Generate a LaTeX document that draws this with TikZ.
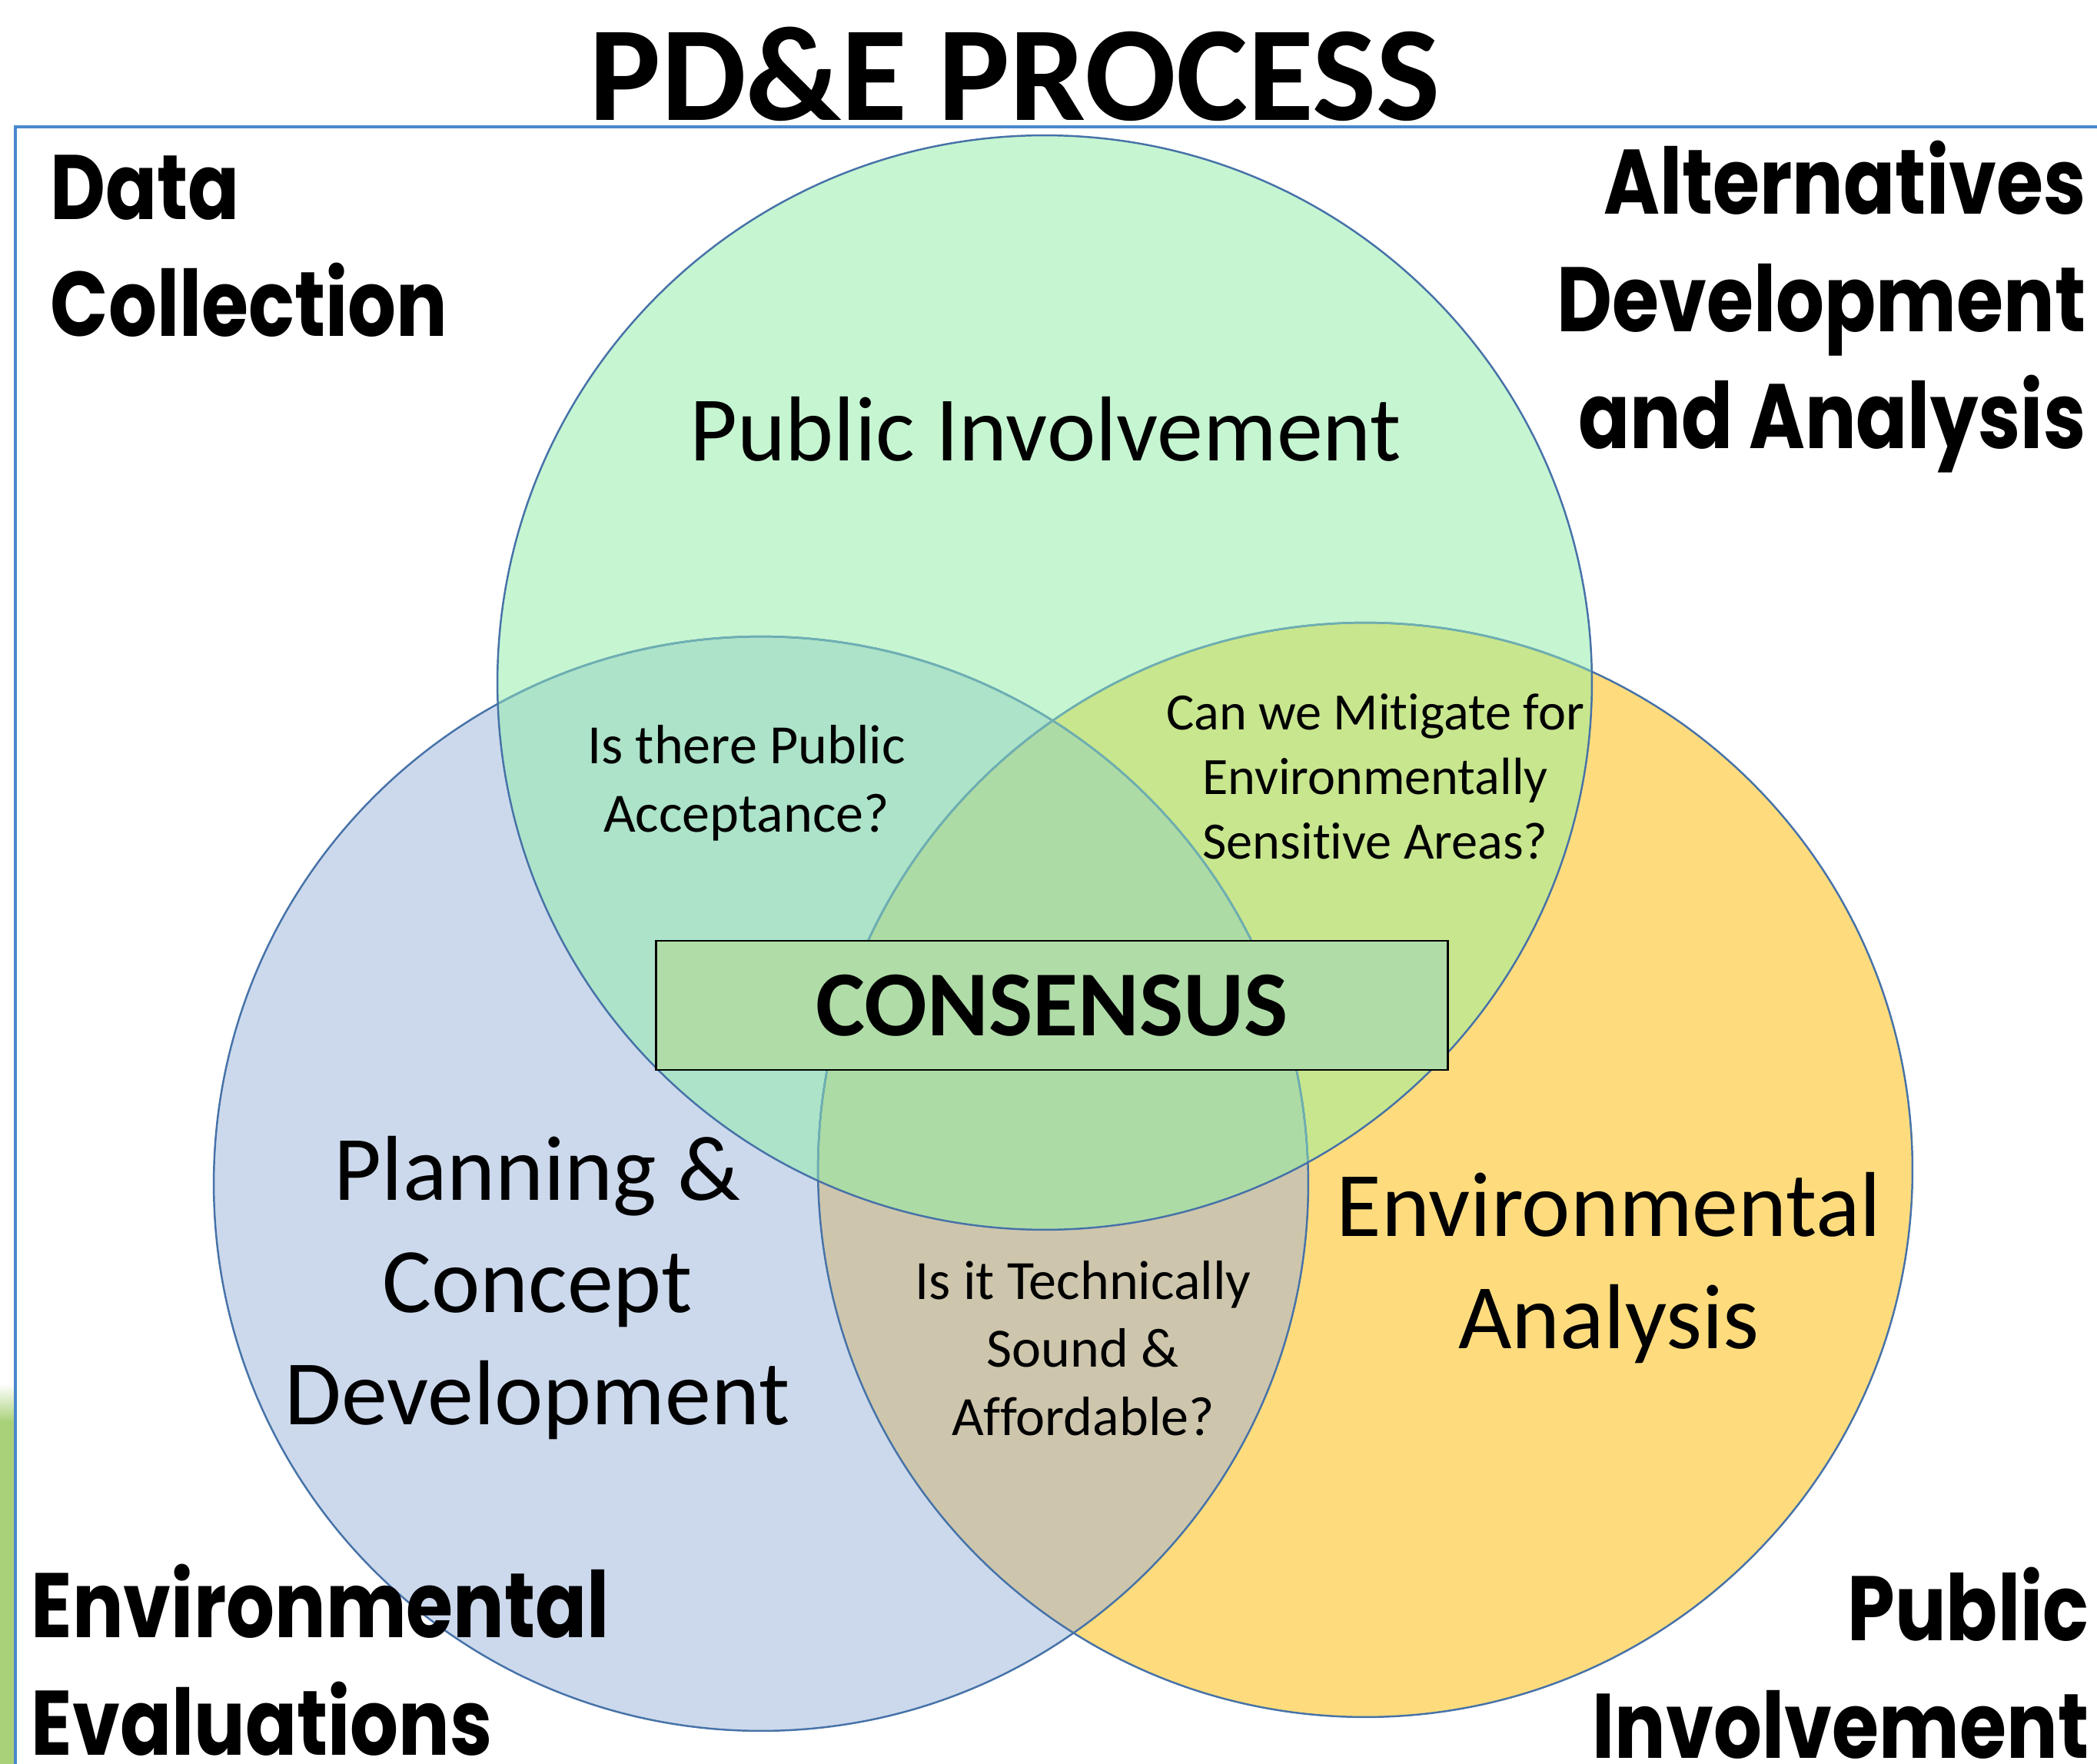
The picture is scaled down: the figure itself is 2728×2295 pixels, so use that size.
\documentclass[tikz,border=0pt]{standalone}
\usepackage{fontspec}
\setmainfont{Carlito}[Ligatures=NoCommon]
\newfontfamily\cornerfont{Poppins}[FakeStretch=0.83]
\definecolor{cG}{HTML}{C6F5D2}
\definecolor{cB}{HTML}{CCD9EC}
\definecolor{cY}{HTML}{FEDC7E}
\definecolor{cGB}{HTML}{ACE3C9}
\definecolor{cGY}{HTML}{C8E68E}
\definecolor{cBY}{HTML}{CDC6AD}
\definecolor{cGBY}{HTML}{ADDBA5}
\definecolor{cBox}{HTML}{B0DCA8}
\definecolor{edgeblue}{HTML}{4672A8}
\definecolor{edgelight}{HTML}{6DB0B2}
\definecolor{frameblue}{HTML}{4A88CC}
\definecolor{bargreen}{HTML}{A9D17A}
\tikzset{
  circline/.style={draw=edgeblue, line width=0.7pt},
  circlight/.style={draw=edgelight, line width=0.7pt},
  bigtext/.style={inner sep=0pt, anchor=base, align=center, font=\fontsize{34.1}{41.5}\selectfont},
  qtext/.style={inner sep=0pt, anchor=base, align=center, font=\fontsize{20.5}{25.1}\selectfont},
  cornerlbl/.style={inner sep=0pt, font=\fontsize{33.9}{43.5}\selectfont\cornerfont\bfseries},
}
\begin{document}
\begin{tikzpicture}[x=0.01cm, y=-0.01cm]
\useasboundingbox (0,0) rectangle (2728,2295);
\def\R{7.115cm}
% left green strip
\shade[top color=white, bottom color=bargreen] (0,1800) rectangle (18,1850);
\fill[bargreen] (0,1849) rectangle (18,2295);
% frame
\draw[frameblue, line width=0.9pt] (20,2295) -- (20,165) -- (2728,165);
% circle centres
\coordinate (G) at (1359,888);
\coordinate (B) at (990,1540);
\coordinate (Y) at (1776,1522);
% fills
\fill[cY] (Y) circle[radius=\R];
\fill[cB] (B) circle[radius=\R];
\begin{scope}
  \clip (B) circle[radius=\R];
  \fill[cBY] (Y) circle[radius=\R];
\end{scope}
\fill[cG] (G) circle[radius=\R];
\begin{scope}
  \clip (G) circle[radius=\R];
  \fill[cGB] (B) circle[radius=\R];
  \fill[cGY] (Y) circle[radius=\R];
  \clip (B) circle[radius=\R];
  \fill[cGBY] (Y) circle[radius=\R];
\end{scope}
% outlines
\draw[circline] (B) circle[radius=\R];
\draw[circline] (Y) circle[radius=\R];
\begin{scope}
  \clip (G) circle[radius=\R];
  \draw[circlight] (B) circle[radius=\R];
  \draw[circlight] (Y) circle[radius=\R];
\end{scope}
\draw[circline] (G) circle[radius=\R];
% consensus box
\node[draw=black, line width=0.7pt, fill=cBox, minimum width=10.29cm, minimum height=1.68cm, inner sep=0pt,
      font=\fontsize{34.4}{40}\selectfont\bfseries] (consensus) at (1368.5,1308) {CONSENSUS};
% title
\node[inner sep=0pt, anchor=base, font=\fontsize{50}{60}\selectfont\bfseries] (title) at (1320,157) {PD\&E PROCESS};
% circle labels (anchor = baseline of last line)
\node[bigtext] (pubinv) at (1360,600) {Public Involvement};
\node[bigtext] (planning) at (699,1853) {Planning \&\\Concept\\Development};
\node[bigtext] (envanal) at (2093,1754) {Environmental\\Analysis};
% overlap questions
\node[qtext] (accept) at (971,1082) {Is there Public\\Acceptance?};
\node[qtext, font=\fontsize{19.4}{23.8}\selectfont] (mitigate) at (1789,1117) {Can we Mitigate for\\Environmentally\\Sensitive Areas?};
\node[qtext] (technical) at (1409,1867) {Is it Technically\\Sound \&\\Affordable?};
% corner labels
\node[cornerlbl, anchor=base west, align=left] (datacol) at (65,438) {Data\\Collection};
\node[cornerlbl, anchor=base east, align=right] (altdev) at (2714,584) {Alternatives\\Development\\and Analysis};
\node[cornerlbl, anchor=base west, align=left] (enveval) at (40,2283) {Environmental\\Evaluations};
\node[cornerlbl, anchor=base east, align=right] (pubinv2) at (2718,2287) {Public\\Involvement};
\end{tikzpicture}
\end{document}
